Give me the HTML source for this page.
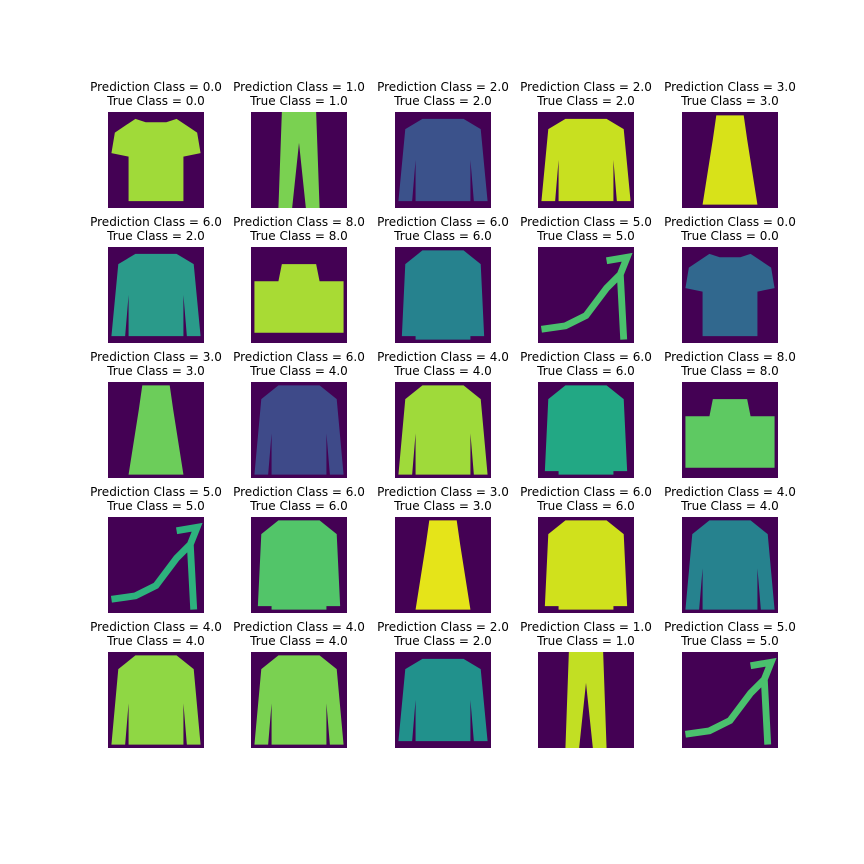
<!DOCTYPE html>
<html><head><meta charset="utf-8">
<style>
html,body{margin:0;padding:0;background:#fff;}
svg{display:block;}
text{font-family:"DejaVu Sans","Liberation Sans",sans-serif;font-size:12px;fill:#000;}
</style></head>
<body>
<svg id="fig" width="864" height="864" viewBox="0 0 864 864" xmlns="http://www.w3.org/2000/svg">
<rect width="864" height="864" fill="#fff"/>
</svg>
<script>
const predClasses = [0,1,2,2,3, 6,8,6,5,0, 3,6,4,6,8, 5,6,3,6,4, 4,4,2,1,5];
const trueClasses = [0,1,2,2,3, 2,8,6,5,0, 3,4,4,6,8, 5,6,3,6,4, 4,4,2,1,5];
const itemColors = ['#a0da39','#7ad151','#3b528b','#c8e020','#d8e219',
 '#2a9a8a','#a8db34','#26828e','#4ac16d','#31688e',
 '#6ccd5a','#3e4a89','#9fda3a','#22a884','#5ec962',
 '#2db27d','#52c569','#e5e419','#d0e11c','#26828e',
 '#8fd744','#7ad151','#21918c','#c2df23','#4ac16d'];
const colX = [108,251,395,538,682];
const rowY = [112,247,382,517,652];
const S = 96;
const shapes = {
 0:'M8,2 L11,3 L17,3 L20,2 L26,6 L27,12 L22,13 L22,26 L6,26 L6,13 L1,12 L2,6 Z',
 1:'M9,0 L19,0 L20,28 L16,28 L14,9 L12,28 L8,28 Z',
 2:'M8,2 L20,2 L25,5 L27,26 L23,26 L22,14 L22,26 L6,26 L6,14 L5,26 L1,26 L3,5 Z',
 3:'M10,1 L18,1 L19,8 L22,27 L6,27 L9,8 Z',
 4:'M8,1 L20,1 L25,5 L27,27 L23,27 L22,15 L22,27 L6,27 L6,15 L5,27 L1,27 L3,5 Z',
 6:'M8,1 L20,1 L25,5 L26,26 L22,26 L22,14 L22,27 L6,27 L6,14 L6,26 L2,26 L3,5 Z',
 8:'M1,10 L27,10 L27,25 L1,25 Z M8,10 L9,5 L19,5 L20,10 Z'
};
const svg = document.getElementById('fig');
const NS = 'http://www.w3.org/2000/svg';
for (let i = 0; i < predClasses.length; i++) {
 const r = Math.floor(i/5), c = i%5;
 const x = colX[c], y = rowY[r];
 const g = document.createElementNS(NS,'g');
 
 
 const t1 = document.createElementNS(NS,'text');
 
 
 t1.setAttribute('x', x+S/2); t1.setAttribute('y', y-21);
 t1.setAttribute('text-anchor','middle');
 t1.textContent = 'Prediction Class = ' + predClasses[i].toFixed(1);
 const t2 = document.createElementNS(NS,'text');
 
 
 t2.setAttribute('x', x+S/2); t2.setAttribute('y', y-7);
 t2.setAttribute('text-anchor','middle');
 t2.textContent = 'True Class = ' + trueClasses[i].toFixed(1);
 g.appendChild(t1); g.appendChild(t2);
 const bg = document.createElementNS(NS,'rect');
 
 
 bg.setAttribute('x',x); bg.setAttribute('y',y);
 bg.setAttribute('width',S); bg.setAttribute('height',S);
 bg.setAttribute('fill','#440154');
 g.appendChild(bg);
 const inner = document.createElementNS(NS,'g');
 inner.setAttribute('transform','translate('+x+','+y+') scale('+(S/28)+')');
 const cls = trueClasses[i];
 if (cls === 5) {
  const p = document.createElementNS(NS,'path');
  
  
  p.setAttribute('d','M1,24 L8,23 L14,20 L20,12 L24,8 L25,27 M24,8 L26,3 L20,4');
  p.setAttribute('fill','none');
  p.setAttribute('stroke',itemColors[i]);
  p.setAttribute('stroke-width','2');
  inner.appendChild(p);
 } else {
  const p = document.createElementNS(NS,'path');
  
  
  p.setAttribute('d',shapes[cls] || shapes[0]);
  p.setAttribute('fill',itemColors[i]);
  p.setAttribute('fill-rule','nonzero');
  inner.appendChild(p);
 }
 g.appendChild(inner);
 svg.appendChild(g);
}
</script>
</body></html>
